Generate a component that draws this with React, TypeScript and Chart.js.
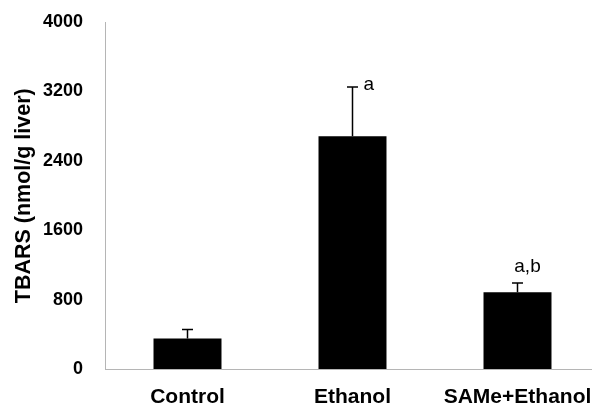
import React, { useEffect, useRef } from "react";
import { Chart, registerables } from "chart.js";

Chart.register(...registerables);

const categories = ["Control", "Ethanol", "SAMe+Ethanol"];
const means = [357, 2685, 890];
const errorTops = [460, 3252, 997];
const annotations = ["", "a", "a,b"];
const yTicks = [0, 800, 1600, 2400, 3200, 4000];

const FONT = "'Liberation Sans', Arial, Helvetica, sans-serif";

const errorBarPlugin = {
  id: "errorBars",
  afterDatasetsDraw(chart: any) {
    const ctx = chart.ctx;
    const meta = chart.getDatasetMeta(0);
    const yScale = chart.scales.y;
    ctx.save();
    meta.data.forEach((bar: any, i: number) => {
      const x = bar.x;
      const yTop = yScale.getPixelForValue(errorTops[i]);
      const yBar = yScale.getPixelForValue(means[i]);
      ctx.strokeStyle = "#000";
      ctx.lineWidth = 1.5;
      ctx.beginPath();
      ctx.moveTo(x, yBar);
      ctx.lineTo(x, yTop);
      ctx.moveTo(x - 5.5, yTop);
      ctx.lineTo(x + 5.5, yTop);
      ctx.stroke();
      const label = annotations[i];
      if (label) {
        ctx.fillStyle = "#000";
        ctx.font = `19px ${FONT}`;
        ctx.textBaseline = "middle";
        if (label === "a") {
          ctx.textAlign = "left";
          ctx.fillText(label, x + 11, yTop - 2);
        } else {
          ctx.textAlign = "center";
          ctx.fillText(label, x + 10, yTop - 16);
        }
      }
    });
    ctx.restore();
  },
};

export default function App() {
  const ref = useRef<HTMLCanvasElement | null>(null);
  useEffect(() => {
    if (!ref.current) return;
    const chart = new Chart(ref.current, {
      type: "bar",
      data: {
        labels: categories,
        datasets: [
          {
            data: means,
            backgroundColor: "#000",
            borderWidth: 0,
            categoryPercentage: 1,
            barPercentage: 0.412,
          },
        ],
      },
      options: {
        responsive: false,
        animation: false,
        layout: { padding: { top: 22, right: 0, bottom: 0, left: 0 } },
        plugins: {
          legend: { display: false },
          title: { display: false },
          tooltip: { enabled: false },
        },
        scales: {
          x: {
            grid: { display: true, drawOnChartArea: false, drawTicks: false },
            border: { display: true, color: "#b5b5b5", width: 1, dash: [1, 2] },
            ticks: {
              color: "#000",
              padding: 15,
              maxRotation: 0,
              autoSkip: false,
              font: { family: FONT, size: 21, weight: "bold" },
            },
            afterFit(scale: any) {
              scale.height = 410 - 22 - 347.5;
              scale.paddingTop = 0;
              scale.paddingBottom = 0;
              scale.paddingLeft = 0;
              scale.paddingRight = 0;
            },
          },
          y: {
            min: 0,
            max: 4000,
            afterBuildTicks(scale: any) {
              scale.ticks = yTicks.map((v) => ({ value: v }));
            },
            grid: { display: true, drawOnChartArea: false, drawTicks: false },
            border: { display: true, color: "#b5b5b5", width: 1, dash: [1, 2] },
            ticks: {
              color: "#000",
              padding: 22,
              callback: (v: any) => String(v),
              font: { family: FONT, size: 18, weight: "bold" },
            },
            title: {
              display: true,
              text: "TBARS (nmol/g liver)",
              color: "#000",
              padding: { top: 11, bottom: 0 },
              font: { family: FONT, size: 21.5, weight: "bold" },
            },
            afterFit(scale: any) {
              scale.width = 105;
              scale.paddingTop = 0;
              scale.paddingBottom = 0;
            },
          },
        },
      },
      plugins: [errorBarPlugin],
    });
    return () => chart.destroy();
  }, []);

  return (
    <div
      style={{
        position: "fixed",
        left: 0,
        top: 0,
        width: 592,
        height: 410,
        overflow: "hidden",
        background: "#fff",
      }}
    >
      <canvas ref={ref} width={600} height={410} style={{ width: 600, height: 410, display: "block" }} />
    </div>
  );
}
